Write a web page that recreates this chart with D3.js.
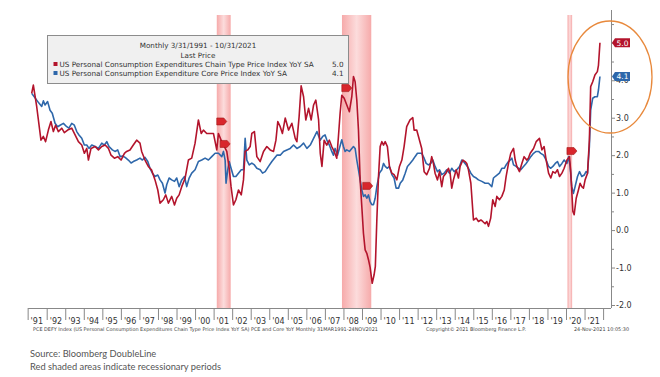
<!DOCTYPE html>
<html>
<head>
<meta charset="utf-8">
<script src="https://cdn.jsdelivr.net/npm/d3@7"></script>
<style>
  body { margin: 0; background: #fff; }
  svg { display: block; }
  .axis path, .axis line { stroke: #888; }
  .axis text { font-family: "DejaVu Sans", sans-serif; fill: #333; }
</style>
</head>
<body>
<svg id="chart" width="660" height="377"></svg>
<script>
// Headline PCE YoY (red), decimal years
const headlineYears = [1991.19,1991.28,1991.46,1991.69,1991.82,1991.94,1992.09,1992.23,1992.36,1992.48,1992.63,1992.81,1992.95,
  1993.13,1993.35,1993.53,1993.71,1993.89,1994.03,1994.16,1994.25,1994.39,1994.61,1994.79,1994.97,1995.15,1995.33,1995.47,
  1995.65,1995.83,1996.01,1996.19,1996.31,1996.49,1996.67,1996.85,1997.03,1997.12,1997.3,1997.48,1997.66,1997.84,1997.99,
  1998.11,1998.29,1998.42,1998.56,1998.74,1998.89,1999.01,1999.14,1999.28,1999.46,1999.64,1999.82,2000.0,2000.18,2000.33,
  2000.45,2000.63,2000.81,2000.99,2001.17,2001.26,2001.44,2001.58,2001.71,2001.84,2001.94,2002.07,2002.2,2002.34,2002.49,
  2002.61,2002.7,2002.84,2002.97,2003.06,2003.2,2003.33,2003.51,2003.69,2003.87,2004.05,2004.23,2004.36,2004.46,2004.59,
  2004.71,2004.86,2005.04,2005.22,2005.4,2005.49,2005.61,2005.72,2005.85,2005.97,2006.12,2006.26,2006.39,2006.51,2006.66,
  2006.75,2006.84,2006.96,2007.1,2007.24,2007.37,2007.5,2007.64,2007.73,2007.82,2007.91,2008.04,2008.18,2008.32,2008.45,
  2008.54,2008.63,2008.72,2008.81,2008.9,2008.99,2009.08,2009.17,2009.26,2009.35,2009.44,2009.55,2009.65,2009.72,2009.8,
  2009.89,2009.98,2010.07,2010.16,2010.25,2010.37,2010.48,2010.61,2010.73,2010.88,2011.02,2011.15,2011.27,2011.41,2011.59,
  2011.74,2011.81,2011.95,2012.1,2012.22,2012.35,2012.49,2012.64,2012.76,2012.85,2012.94,2013.07,2013.18,2013.3,2013.39,
  2013.53,2013.66,2013.75,2013.84,2013.93,2014.08,2014.2,2014.29,2014.44,2014.56,2014.65,2014.74,2014.87,2015.01,2015.16,
  2015.28,2015.41,2015.51,2015.64,2015.73,2015.82,2015.94,2016.05,2016.18,2016.27,2016.41,2016.54,2016.67,2016.77,2016.9,
  2017.02,2017.17,2017.26,2017.35,2017.49,2017.62,2017.74,2017.88,2017.97,2018.07,2018.25,2018.39,2018.57,2018.7,2018.82,
  2018.93,2019.06,2019.18,2019.29,2019.42,2019.54,2019.65,2019.78,2019.9,2020.05,2020.19,2020.26,2020.37,2020.44,2020.55,
  2020.67,2020.76,2020.85,2020.94,2021.03,2021.16,2021.26,2021.33,2021.44,2021.56,2021.69,2021.75,2021.83];
const headlineValues = [3.65,3.87,3.3,2.4,2.5,2.36,2.67,2.9,2.63,2.8,2.63,2.72,2.6,
  2.67,2.72,2.54,2.36,2.27,2.05,2.18,1.87,2.18,2.23,2.14,2.23,2.27,2.18,2.0,
  1.92,1.96,1.87,2.05,2.1,2.14,2.27,2.4,2.32,2.1,1.87,1.7,1.6,1.34,1.07,
  0.72,0.81,0.94,0.72,0.9,0.67,0.85,0.94,1.16,1.38,1.87,1.92,2.32,2.94,2.58,
  2.67,2.58,2.58,2.58,2.14,2.58,2.36,2.23,2.1,1.65,1.16,0.67,0.81,1.07,0.94,
  1.34,2.1,2.14,2.23,2.58,2.63,1.96,1.83,2.1,2.23,2.14,2.1,2.4,2.9,2.76,
  2.58,2.99,2.67,2.85,2.45,2.36,3.03,3.85,3.56,2.94,3.25,2.94,3.34,3.47,2.94,
  2.05,1.7,2.4,2.27,2.4,2.23,2.1,1.92,2.5,3.12,3.6,3.52,3.34,3.16,3.56,
  4.1,3.96,3.47,2.67,1.34,0.63,-0.09,-0.53,-0.62,-0.79,-1.0,-1.42,-1.2,-0.97,0.27,
  1.43,2.23,2.36,2.27,2.36,2.23,1.7,1.52,1.48,1.34,1.7,1.87,2.23,2.76,2.94,
  3.0,2.67,2.67,2.4,2.18,1.56,1.48,1.65,1.96,1.78,1.52,1.34,1.56,1.16,1.43,
  1.52,1.65,1.52,1.12,1.34,1.61,1.39,1.7,1.87,1.83,1.78,1.61,1.25,0.27,0.32,
  0.23,0.27,0.23,0.17,0.23,0.1,0.32,0.81,0.63,0.9,0.81,0.9,1.07,1.43,1.78,
  2.05,2.18,1.87,1.7,1.56,1.78,1.96,1.87,1.92,2.05,2.18,2.36,2.45,2.14,2.23,
  1.87,1.52,1.39,1.56,1.52,1.61,1.43,1.52,1.65,1.87,1.96,1.52,0.5,0.41,0.85,
  1.07,1.25,1.16,1.12,1.34,1.52,2.4,3.83,3.96,4.14,4.23,4.4,5.0];

// Core PCE YoY (blue)
const coreYears = [1991.19,1991.33,1991.46,1991.58,1991.73,1991.82,1991.91,1992.05,1992.18,1992.3,1992.45,1992.59,1992.72,
  1992.9,1993.08,1993.2,1993.35,1993.49,1993.62,1993.74,1993.89,1994.03,1994.16,1994.28,1994.43,1994.61,1994.79,1994.97,
  1995.11,1995.24,1995.36,1995.54,1995.68,1995.83,1995.96,1996.08,1996.23,1996.4,1996.55,1996.67,1996.85,1997.03,1997.16,
  1997.3,1997.45,1997.57,1997.7,1997.84,1997.99,1998.11,1998.24,1998.38,1998.47,1998.6,1998.74,1998.89,1999.01,1999.14,
  1999.28,1999.43,1999.55,1999.68,1999.82,2000.0,2000.18,2000.36,2000.54,2000.72,2000.9,2001.08,2001.26,2001.44,2001.53,
  2001.62,2001.67,2001.76,2001.84,2001.94,2002.07,2002.2,2002.34,2002.49,2002.61,2002.7,2002.79,2002.92,2003.06,2003.2,
  2003.33,2003.51,2003.64,2003.78,2003.96,2004.14,2004.28,2004.41,2004.59,2004.77,2004.95,2005.13,2005.31,2005.49,2005.67,
  2005.85,2006.03,2006.21,2006.39,2006.57,2006.75,2006.88,2007.01,2007.1,2007.24,2007.37,2007.46,2007.55,2007.68,2007.78,
  2007.91,2008.0,2008.09,2008.18,2008.32,2008.45,2008.54,2008.63,2008.72,2008.81,2008.9,2008.99,2009.08,2009.17,2009.26,
  2009.35,2009.44,2009.53,2009.62,2009.71,2009.8,2009.94,2010.07,2010.16,2010.25,2010.37,2010.48,2010.61,2010.73,2010.84,
  2010.97,2011.06,2011.2,2011.33,2011.45,2011.59,2011.74,2011.86,2011.99,2012.1,2012.22,2012.35,2012.46,2012.58,2012.71,
  2012.82,2012.94,2013.07,2013.18,2013.3,2013.43,2013.57,2013.72,2013.84,2013.97,2014.11,2014.26,2014.38,2014.47,2014.62,
  2014.74,2014.87,2015.01,2015.16,2015.28,2015.46,2015.64,2015.82,2016.0,2016.09,2016.18,2016.31,2016.41,2016.54,2016.67,
  2016.77,2016.9,2016.99,2017.08,2017.17,2017.31,2017.44,2017.56,2017.71,2017.85,2017.98,2018.1,2018.25,2018.39,2018.52,
  2018.64,2018.79,2018.93,2019.06,2019.18,2019.29,2019.42,2019.54,2019.65,2019.78,2019.9,2020.05,2020.14,2020.22,2020.31,
  2020.4,2020.49,2020.62,2020.73,2020.85,2020.98,2021.08,2021.16,2021.26,2021.33,2021.44,2021.56,2021.69,2021.75,2021.83];
const coreValues = [3.65,3.56,3.47,3.39,3.3,3.45,3.34,3.43,3.2,3.12,2.85,2.76,2.8,
  2.85,2.76,2.72,2.85,2.8,2.63,2.54,2.45,2.27,2.27,2.18,2.27,2.23,2.18,2.32,
  2.27,2.36,2.23,2.14,2.1,2.14,1.96,1.98,1.94,1.87,1.79,1.83,1.87,1.92,1.87,
  1.94,1.83,1.65,1.52,1.43,1.47,1.34,1.25,0.99,1.21,1.39,1.34,1.3,1.39,1.16,
  1.34,1.43,1.16,1.39,1.52,1.61,1.83,1.87,1.92,1.87,1.96,2.05,2.05,1.96,2.1,
  1.87,1.25,1.61,1.83,1.65,1.43,1.43,1.52,1.61,1.61,2.45,1.87,1.74,1.79,1.74,
  1.65,1.61,1.52,1.56,1.7,1.83,1.92,2.0,2.0,2.1,2.14,2.18,2.27,2.18,2.23,
  2.32,2.18,2.27,2.45,2.63,2.4,2.5,2.54,2.41,2.27,2.1,2.0,2.18,2.0,2.18,
  2.41,2.23,2.1,2.14,2.1,2.18,2.23,2.18,1.87,1.61,1.34,1.07,0.9,0.94,0.85,
  0.94,0.76,0.68,0.68,0.85,1.16,1.52,1.61,1.78,1.7,1.65,1.7,1.48,1.39,1.12,
  1.12,1.25,1.34,1.52,1.7,1.78,1.87,1.96,2.05,2.05,2.05,1.92,1.78,1.74,1.78,
  1.87,1.7,1.56,1.61,1.48,1.52,1.61,1.52,1.65,1.56,1.61,1.7,1.87,1.83,1.74,
  1.65,1.52,1.43,1.39,1.34,1.3,1.25,1.25,1.16,1.39,1.43,1.48,1.52,1.65,1.65,
  1.74,1.83,1.87,1.92,1.74,1.7,1.65,1.61,1.7,1.78,1.87,1.96,2.05,2.1,2.1,
  2.05,2.0,1.87,1.7,1.65,1.7,1.78,1.83,1.7,1.78,1.87,1.78,1.96,1.7,1.16,
  0.98,1.16,1.43,1.56,1.43,1.47,1.56,1.52,2.23,3.2,3.52,3.56,3.56,3.74,4.1];

// Recessions (start, end) in decimal years
const recessionStarts = [2001.17, 2007.92, 2020.08];
const recessionEnds = [2001.92, 2009.5, 2020.33];

// Event flags on the chart
const flagYears = [2001.44, 2001.62, 2008.18, 2009.31, 2020.32];
const flagValues = [2.9, 2.3, 3.79, 1.18, 2.11];

const yearTicks = d3.range(1992, 2023);
const valueTicks = [-2, -1, 0, 1, 2, 3, 4, 5];
const minorTicks = [-1.5, -0.5, 0.5, 1.5, 2.5, 3.5, 4.5, 5.5];

const lastHeadline = 5.0;
const lastCore = 4.1;

const red = "#b3142c";
const blue = "#2e67aa";

const svg = d3.select("#chart");
const plotTop = 15, plotBottom = 308, plotRight = 611;

const x = d3.scaleLinear().domain([1992, 2022]).range([46.7, 603.1]);
const y = d3.scaleLinear().domain([-2, 5]).range([305, 42.8]);

// recession band gradient
const defs = svg.append("defs");
const grad = defs.append("linearGradient").attr("id", "rec").attr("x1", "0").attr("x2", "1");
grad.append("stop").attr("offset", "0").attr("stop-color", "#f6aaaa");
grad.append("stop").attr("offset", "0.5").attr("stop-color", "#fcdcdc");
grad.append("stop").attr("offset", "1").attr("stop-color", "#f6aaaa");

svg.selectAll(".rec")
  .data(recessionStarts)
  .enter().append("rect")
  .attr("class", "rec")
  .attr("x", d => x(d))
  .attr("y", plotTop)
  .attr("width", (d, i) => x(recessionEnds[i]) - x(d))
  .attr("height", plotBottom - plotTop)
  .attr("fill", "url(#rec)");

// bottom axis: year separators + labels
const xAxis = svg.append("g")
  .attr("class", "axis")
  .attr("transform", `translate(0,${plotBottom})`)
  .call(d3.axisBottom(x)
    .tickValues(yearTicks)
    .tickSize(12)
    .tickSizeOuter(0)
    .tickFormat(d => d < 2022 ? "'" + String(d).slice(2) : ""));
xAxis.select(".domain").attr("d", `M${x(1991)},0.5H${plotRight}`);
xAxis.selectAll(".tick line").attr("stroke", "#999");
xAxis.selectAll(".tick text")
  .attr("text-anchor", "start")
  .attr("x", 2.5)
  .attr("y", 10)
  .attr("font-size", 8);
// first partial year (data starts Mar 1991)
xAxis.append("line").attr("x1", x(1991)).attr("x2", x(1991)).attr("y1", 0).attr("y2", 12).attr("stroke", "#999");
xAxis.append("text")
  .attr("x", x(1991.25) + 4).attr("y", 10).attr("dy", "0.71em")
  .attr("font-size", 8).attr("fill", "#333")
  .attr("font-family", "DejaVu Sans, sans-serif")
  .text("'91");

// right axis
const yAxis = svg.append("g")
  .attr("class", "axis")
  .attr("transform", `translate(${plotRight},0)`)
  .call(d3.axisRight(y)
    .tickValues(valueTicks)
    .tickSize(4)
    .tickSizeOuter(0)
    .tickFormat(d => d.toFixed(1)));
yAxis.select(".domain").attr("d", `M0.5,${plotTop - 5}V${plotBottom}`);
yAxis.selectAll(".tick line").attr("stroke", "#333");
yAxis.selectAll(".tick text").attr("font-size", 8).attr("x", 5);

svg.append("g")
  .attr("class", "axis")
  .attr("transform", `translate(${plotRight},0)`)
  .call(d3.axisLeft(y).tickValues(minorTicks).tickSize(-3).tickFormat(""))
  .select(".domain").remove();

// series lines
const line = d3.line()
  .x(d => x(d[0]))
  .y(d => y(d[1]));

svg.append("path")
  .datum(coreYears.map((t, i) => [t, coreValues[i]]))
  .attr("d", line)
  .attr("fill", "none")
  .attr("stroke", blue)
  .attr("stroke-width", 1.6)
  .attr("stroke-linejoin", "round");

svg.append("path")
  .datum(headlineYears.map((t, i) => [t, headlineValues[i]]))
  .attr("d", line)
  .attr("fill", "none")
  .attr("stroke", red)
  .attr("stroke-width", 1.6)
  .attr("stroke-linejoin", "round");

// event flags
svg.selectAll(".flag")
  .data(flagYears)
  .enter().append("path")
  .attr("class", "flag")
  .attr("transform", (d, i) => `translate(${x(d)},${y(flagValues[i])})`)
  .attr("d", "M-5,-3.5H2L5,0L2,3.5H-5Z")
  .attr("fill", "#d8262c")
  .attr("stroke", "#a01818")
  .attr("stroke-width", 0.6);

// legend box
const legend = svg.append("g");
legend.append("rect")
  .attr("x", 47.5).attr("y", 35.5)
  .attr("width", 301).attr("height", 48)
  .attr("fill", "#f0f0f0")
  .attr("stroke", "#8c8c8c");
const lf = "DejaVu Sans, sans-serif";
legend.append("text")
  .attr("x", 198).attr("y", 48)
  .attr("text-anchor", "middle").attr("font-size", 7.2).attr("font-family", lf).attr("fill", "#333")
  .text("Monthly 3/31/1991 - 10/31/2021");
legend.append("text")
  .attr("x", 198).attr("y", 57.5)
  .attr("text-anchor", "middle").attr("font-size", 7.2).attr("font-family", lf).attr("fill", "#333")
  .text("Last Price");
const legendNames = ["US Personal Consumption Expenditures Chain Type Price Index YoY SA",
  "US Personal Consumption Expenditure Core Price Index YoY SA"];
const legendColors = [red, blue];
const legendLast = [lastHeadline, lastCore];
legendNames.forEach((name, i) => {
  const yy = 67 + i * 9;
  legend.append("rect").attr("x", 53.5).attr("y", yy - 5).attr("width", 4).attr("height", 4).attr("fill", legendColors[i]);
  legend.append("text").attr("x", 59.5).attr("y", yy)
    .attr("font-size", 7.25).attr("font-family", lf).attr("fill", "#333").text(name);
  legend.append("text").attr("x", 343.5).attr("y", yy).attr("text-anchor", "end")
    .attr("font-size", 7.25).attr("font-family", lf).attr("fill", "#333").text(legendLast[i].toFixed(1));
});

// last value tags on right axis
[[lastHeadline, red], [lastCore, blue]].forEach(([v, c]) => {
  const g = svg.append("g").attr("transform", `translate(${plotRight + 1},${y(v)})`);
  g.append("path").attr("d", "M0,0L3,-4.5H18V4.5H3Z").attr("fill", c);
  g.append("text").attr("x", 10.5).attr("y", 2.8).attr("text-anchor", "middle")
    .attr("font-size", 7.5).attr("font-family", lf).attr("fill", "#fff").text(v.toFixed(1));
});

// highlight ellipse
svg.append("ellipse")
  .attr("cx", 610).attr("cy", 77).attr("rx", 42).attr("ry", 56)
  .attr("fill", "none").attr("stroke", "#e8893c").attr("stroke-width", 1.3);

// footer
const foot = svg.append("g").attr("font-family", lf).attr("font-size", 5).attr("fill", "#444");
foot.append("text").attr("x", 33).attr("y", 331)
  .attr("textLength", 345).attr("lengthAdjust", "spacingAndGlyphs")
  .text("PCE DEFY Index (US Personal Consumption Expenditures Chain Type Price Index YoY SA) PCE and Core YoY  Monthly 31MAR1991-24NOV2021");
foot.append("text").attr("x", 426).attr("y", 331)
  .attr("textLength", 100).attr("lengthAdjust", "spacingAndGlyphs")
  .text("Copyright\u00A9 2021 Bloomberg Finance L.P.");
foot.append("text").attr("x", 574).attr("y", 331)
  .attr("textLength", 55).attr("lengthAdjust", "spacingAndGlyphs")
  .text("24-Nov-2021 10:05:30");

// source note
const note = svg.append("g").attr("font-family", "Lato, sans-serif").attr("font-size", 9.3).attr("fill", "#555");
note.append("text").attr("x", 30).attr("y", 356.5).text("Source: Bloomberg DoubleLine");
note.append("text").attr("x", 30).attr("y", 369.5).text("Red shaded areas indicate recessionary periods");
</script>
</body>
</html>
